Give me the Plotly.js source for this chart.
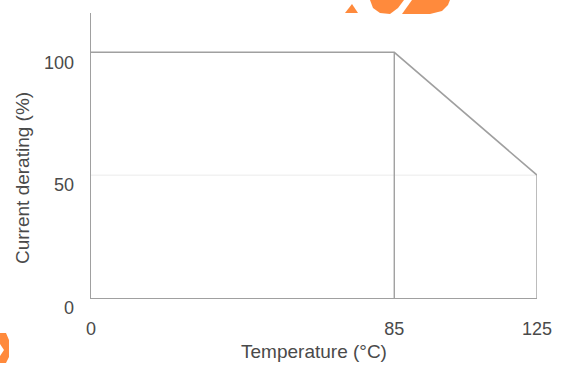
<!DOCTYPE html>
<html><head><meta charset="utf-8">
<script src="https://cdn.plot.ly/plotly-3.0.1.min.js"></script>
<style>html,body{margin:0;padding:0;background:#fff}#c{width:563px;height:369px}</style>
</head><body><div id="c"></div>
<script>
const temperature = [0, 85, 125];
const derating = [100, 100, 50];
const xTickVals = [0, 85, 125];
const xTickText = ['0', '85', '125'];
const yTickVals = [0, 50, 100];
const yTickText = ['0', '50', '100'];
const gridLevel = 50;
const xTitle = 'Temperature (°C)';
const yTitle = 'Current derating (%)';

const lineColor = '#a0a0a0';
const textColor = '#4a4a4a';
const M = {l: 91, r: 26, t: 13, b: 71}, W = 563, H = 369;
const pw = W - M.l - M.r, ph = H - M.t - M.b;
function P(pts) { // pixel points -> paper path
  return 'M' + pts.map(p => ((p[0]-M.l)/pw).toFixed(4) + ',' + ((H-M.b-p[1])/ph).toFixed(4)).join(' L') + ' Z';
}
const orange = '#ff8a3c';
const traces = [
  {x: temperature, y: derating, mode: 'lines', line: {color: lineColor, width: 1.6}, hoverinfo: 'skip'},
  {x: [temperature[1], temperature[1]], y: [0, derating[1]], mode: 'lines', line: {color: lineColor, width: 1.4}, hoverinfo: 'skip'},
  {x: [temperature[2], temperature[2]], y: [0, derating[2]], mode: 'lines', line: {color: lineColor, width: 1.4}, hoverinfo: 'skip'}
];
const layout = {
  width: W, height: H,
  margin: M,
  paper_bgcolor: '#fff', plot_bgcolor: '#fff',
  showlegend: false,
  font: {family: '"Liberation Sans", Arial, sans-serif', size: 18, color: textColor},
  shapes: [
    {type: 'line', xref: 'paper', yref: 'y', x0: 0, x1: 1, y0: gridLevel, y1: gridLevel, line: {color: '#ebebeb', width: 1}, layer: 'below'},
    {type: 'path', xref: 'paper', yref: 'paper', path: P([[345,13],[352,4],[358,13]]), fillcolor: orange, line: {width: 0}},
    {type: 'path', xref: 'paper', yref: 'paper', path: P([[370,0],[373,8],[380,13],[390,14],[398,8],[404,0]]), fillcolor: orange, line: {width: 0}},
    {type: 'path', xref: 'paper', yref: 'paper', path: P([[412,0],[402,14],[430,14],[442,11],[448,5],[450,0]]), fillcolor: orange, line: {width: 0}},
    {type: 'path', xref: 'paper', yref: 'paper', path: P([[0,333],[6,333],[9,340],[9,357],[6,363],[0,363],[0,356],[4,350],[0,344]]), fillcolor: orange, line: {width: 0}}
  ],
  annotations: [
    {text: yTitle, xref: 'paper', yref: 'paper', x: (22 - M.l) / pw, y: (H - M.b - 178) / ph,
     xanchor: 'center', yanchor: 'middle', textangle: -90, showarrow: false,
     font: {size: 19, color: textColor}}
  ],
  xaxis: {
    range: [0, 125], tickvals: xTickVals, ticktext: xTickText,
    showgrid: false, zeroline: false, showline: true, linecolor: lineColor, linewidth: 1.4,
    ticks: '', ticklabelstandoff: 14, tickfont: {size: 18, color: textColor},
    title: {text: xTitle, font: {size: 19, color: textColor}, standoff: 6}
  },
  yaxis: {
    range: [0, 116], tickvals: yTickVals, ticktext: yTickText,
    showgrid: false, zeroline: false,
    showline: true, linecolor: lineColor, linewidth: 1.4,
    ticks: '', ticklabelstandoff: 12, ticklabelshift: 10, tickfont: {size: 18, color: textColor}
  }
};
Plotly.newPlot('c', traces, layout, {displayModeBar: false, staticPlot: true});
</script></body></html>
